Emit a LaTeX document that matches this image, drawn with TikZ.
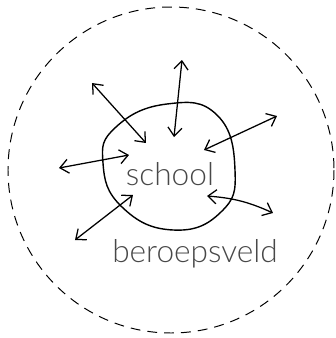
\documentclass[tikz,border=0pt]{standalone}
\usepackage{fontspec}
\newfontfamily\lbl{Lato Light}
\usetikzlibrary{arrows.meta}
\definecolor{txtgray}{RGB}{72,72,72}
\tikzset{
  twoway/.style={line width=0.9pt,{Straight Barb[length=6pt,width=10pt]}-{Straight Barb[length=6pt,width=10pt]}},
  label/.style={text=txtgray,font=\lbl\fontsize{22.5}{26}\selectfont,inner sep=0pt}
}

\begin{document}
\begin{tikzpicture}[x=0.025cm,y=-0.025cm]
\useasboundingbox (0,0) rectangle (336,338);

% field and school
\draw[dashed,dash pattern=on 7pt off 5pt,line width=0.7pt] (171,170) circle (163);
\draw[line width=1pt] plot[smooth cycle,tension=0.8] coordinates
  {(167,104) (217,115) (235,170) (221,212) (173,230) (122,207) (103,163) (116,127)};

\node[label] (school) at (170,174) {school};
\node[label] (veld) at (195,254) {beroepsveld};

% inner ends
\coordinate (in1) at (146,143);
\coordinate (in2) at (174,137);
\coordinate (in3) at (204,150);
\coordinate (in4) at (129,155);
\coordinate (in5) at (133,195);
\coordinate (in6) at (207,196);
% outer ends
\coordinate (out1) at (92,83);
\coordinate (out2) at (182,60);
\coordinate (out3) at (277,116);
\coordinate (out4) at (59,168);
\coordinate (out5) at (75,240);
\coordinate (out6) at (273,213);

\draw[twoway] (out1)--(in1);
\draw[twoway] (out2)--(in2);
\draw[twoway] (out3)--(in3);
\draw[twoway] (out4)--(in4);
\draw[twoway] (out5)--(in5);
\draw[twoway] (in6) to[bend left=10] (out6);

\end{tikzpicture}
\end{document}
